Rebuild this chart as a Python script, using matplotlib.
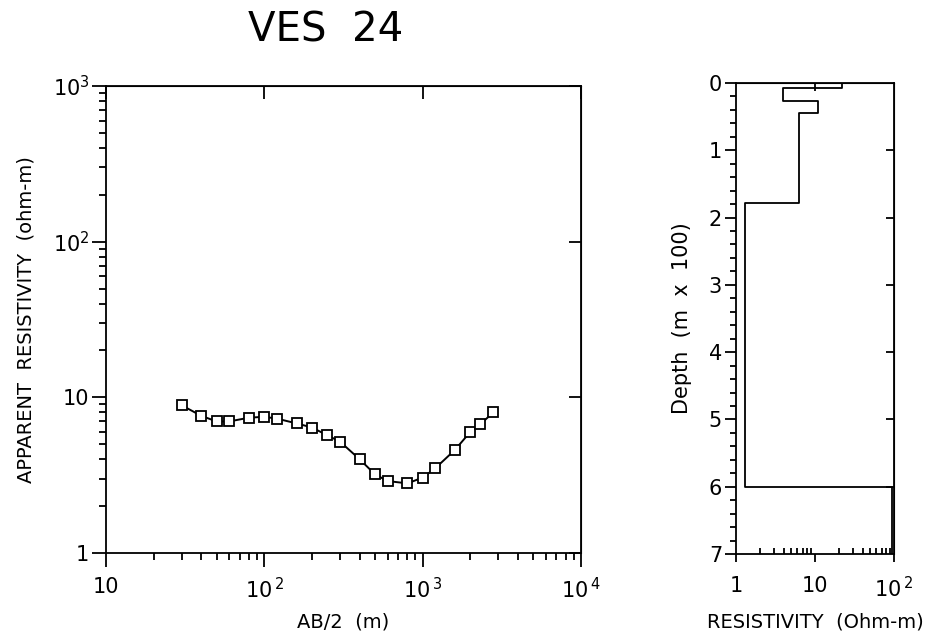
import matplotlib
matplotlib.use("Agg")
import matplotlib.pyplot as plt
from matplotlib.ticker import LogLocator, NullFormatter, FixedLocator, MultipleLocator

# ---- data ----
ab2 = [30, 40, 50, 60, 80, 100, 120, 160, 200, 250, 300, 400, 500, 600, 800,
       1000, 1200, 1600, 2000, 2300, 2800]
rho_app = [8.9, 7.6, 7.0, 7.0, 7.4, 7.5, 7.3, 6.8, 6.4, 5.7, 5.2, 4.0, 3.2, 2.9, 2.8,
           3.05, 3.5, 4.6, 6.0, 6.7, 8.0]

layer_res = [21.7, 3.9, 10.9, 6.2, 1.3, 95.0]       # ohm-m
layer_top = [0.0, 0.079, 0.263, 0.452, 1.78, 6.0]   # depth (m x 100)
max_depth = 7.0

xticks_left = [10, 100, 1000, 10000]
xticklabels_left = ['10', r'$\mathregular{10}^{\,2}$', r'$\mathregular{10}^{\,3}$', r'$\mathregular{10}^{\,4}$']
yticks_left = [1, 10, 100, 1000]
yticklabels_left = ['1', '10', r'$\mathregular{10}^{2}$', r'$\mathregular{10}^{3}$']
xticks_right = [1, 10, 100]
xticklabels_right = ['1', '10', r'$\mathregular{10}^{\,2}$']
yticks_right = [0, 1, 2, 3, 4, 5, 6, 7]

plt.rcParams['font.family'] = ['DejaVu Sans']
plt.rcParams['mathtext.fontset'] = 'dejavusans'

fig = plt.figure(figsize=(9.4, 6.37), dpi=100)
fig.patch.set_facecolor('white')

LW = 1.3
TFS = 15
# ---------------- left panel ----------------
ax1 = fig.add_axes([106/940, 1-553/637, 475/940, 467/637])
ax1.set_xscale('log')
ax1.set_yscale('log')
ax1.set_xlim(10, 10000)
ax1.set_ylim(1, 1000)
ax1.plot(ab2, rho_app, color='black', lw=1.4, marker='s', ms=7, mfc='white',
         mec='black', mew=1.3)
ax1.set_xticks(xticks_left)
ax1.set_xticklabels(xticklabels_left, fontsize=TFS)
ax1.set_yticks(yticks_left)
ax1.set_yticklabels(yticklabels_left, fontsize=TFS)
ax1.xaxis.set_minor_locator(LogLocator(base=10, subs=range(2, 10)))
ax1.yaxis.set_minor_locator(LogLocator(base=10, subs=range(2, 10)))
ax1.xaxis.set_minor_formatter(NullFormatter())
ax1.yaxis.set_minor_formatter(NullFormatter())
ax1.tick_params(which='major', direction='out', length=10, width=LW)
ax1.tick_params(axis='x', which='major', pad=7)
ax1.tick_params(axis='y', which='major', pad=2)
ax1.tick_params(which='minor', direction='out', length=5, width=LW)
for s in ax1.spines.values():
    s.set_linewidth(LW)
ax1.set_xlabel('AB/2  (m)', fontsize=14, labelpad=8)
ax1.set_ylabel('APPARENT  RESISTIVITY  (ohm-m)', fontsize=14, labelpad=12)

sx = ax1.secondary_xaxis('top')
sx.set_xticks(xticks_left)
sx.set_xticklabels([])
sx.xaxis.set_minor_locator(FixedLocator([]))
sx.tick_params(which='major', direction='in', length=9, width=LW)
sy = ax1.secondary_yaxis('right')
sy.set_yticks(yticks_left)
sy.set_yticklabels([])
sy.yaxis.set_minor_locator(FixedLocator([]))
sy.tick_params(which='major', direction='in', length=9, width=LW)

fig.text(326/940, 1-30/637, 'VES  24', fontsize=29, ha='center', va='center')

# ---------------- right panel ----------------
ax2 = fig.add_axes([736/940, 1-554/637, 158/940, 471/637])
ax2.set_xscale('log')
ax2.set_xlim(1, 100)
ax2.set_ylim(max_depth, 0)
# staircase of the layered model
xs, ys = [], []
bottoms = layer_top[1:] + [max_depth]
for r, t, b in zip(layer_res, layer_top, bottoms):
    xs += [r, r]
    ys += [t, b]
ax2.plot(xs, ys, color='black', lw=1.3)
ax2.set_xticks(xticks_right)
ax2.set_xticklabels(xticklabels_right, fontsize=TFS)
ax2.set_yticks(yticks_right)
ax2.set_yticklabels([str(v) for v in yticks_right], fontsize=TFS)
ax2.xaxis.set_minor_locator(LogLocator(base=10, subs=range(2, 10)))
ax2.xaxis.set_minor_formatter(NullFormatter())
ax2.yaxis.set_minor_locator(MultipleLocator(0.2))
ax2.tick_params(axis='x', which='major', direction='out', length=6, width=LW, pad=10)
ax2.tick_params(axis='x', which='minor', direction='in', length=4, width=LW)
ax2.tick_params(axis='y', which='major', direction='out', length=8, width=LW, pad=2)
ax2.tick_params(axis='y', which='minor', direction='out', length=4, width=LW)
for s in ax2.spines.values():
    s.set_linewidth(LW)
ax2.set_xlabel('RESISTIVITY  (Ohm-m)', fontsize=14, labelpad=8)
ax2.set_ylabel('Depth  (m  x  100)', fontsize=15, labelpad=12)

sx2 = ax2.secondary_xaxis('top')
sx2.set_xticks([10])
sx2.set_xticklabels([])
sx2.xaxis.set_minor_locator(FixedLocator([]))
sx2.tick_params(which='major', direction='in', length=6, width=LW)
sy2 = ax2.secondary_yaxis('right')
sy2.set_yticks(yticks_right[1:-1])
sy2.set_yticklabels([])
sy2.yaxis.set_minor_locator(FixedLocator([]))
sy2.tick_params(which='major', direction='in', length=6, width=LW)

fig.savefig('out.png', dpi=100, facecolor='white')
